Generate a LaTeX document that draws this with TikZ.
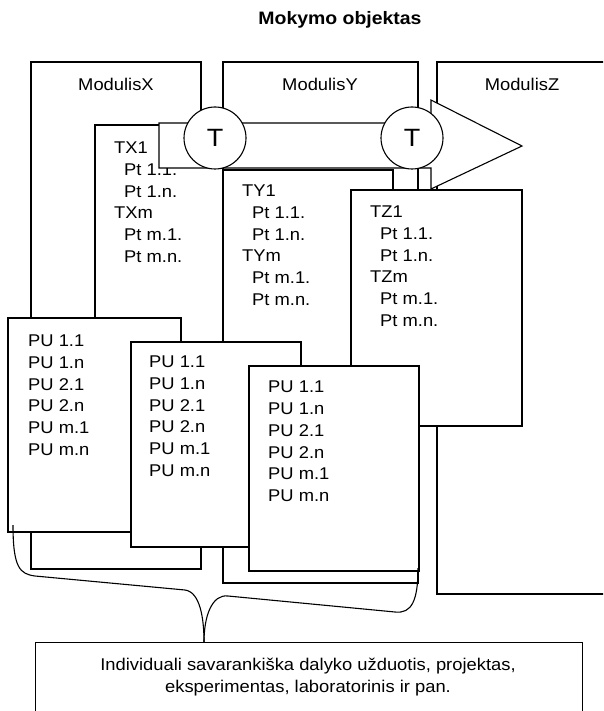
\documentclass[tikz,border=0pt]{standalone}
\usepackage{fontspec}
\setmainfont[FakeStretch=1.08]{Liberation Sans}
\begin{document}
\begin{tikzpicture}[x=1pt,y=-1pt,
  box/.style={draw=black, fill=white, line width=1.1pt},
  lbl/.style={font=\fontsize{17}{21.7}\selectfont, inner sep=0pt},
  list/.style={lbl, align=left, anchor=north west},
  tcirc/.style={circle, draw=black, fill=white, line width=1.1pt, minimum size=62pt, inner sep=0pt, font=\fontsize{25}{25}\selectfont},
  bracepath/.style={draw=black, line width=1.1pt}]
\useasboundingbox (0,0) rectangle (603,711);
\begin{scope}
\clip (0,0) rectangle (603,711);
% title
\node[font=\bfseries\fontsize{18}{20}\selectfont, inner sep=0pt] (title) at (340,20) {Mokymo objektas};
% Modulis X
\draw[box] (31,62) rectangle (201,569);
\node[lbl] (mx) at (116,84) {ModulisX};
\draw[box] (95,125) rectangle (223,450);
\node[list] (tx) at (114,142) {TX1\\\hspace*{10pt}Pt 1.1.\\\hspace*{10pt}Pt 1.n.\\TXm\\\hspace*{10pt}Pt m.1.\\\hspace*{10pt}Pt m.n.};
% Modulis Y
\draw[box] (223,62) rectangle (418,583);
\node[lbl] (my) at (320,84) {ModulisY};
\draw[box] (223,170) rectangle (393,480);
\node[list] (ty) at (242,185) {TY1\\\hspace*{10pt}Pt 1.1.\\\hspace*{10pt}Pt 1.n.\\TYm\\\hspace*{10pt}Pt m.1.\\\hspace*{10pt}Pt m.n.};
% Modulis Z
\draw[box] (437,62) rectangle (608,594);
\node[lbl] (mz) at (522,84) {ModulisZ};
% arrow
\draw[box] (159,123) -- (431,123) -- (431,100) -- (522,146) -- (431,189) -- (431,168) -- (159,168) -- cycle;
\node[tcirc] (c1) at (215,138) {T};
\node[tcirc] (c2) at (412,138) {T};
% TZ box
\draw[box] (351,190) rectangle (522,426);
\node[list] (tz) at (370,206) {TZ1\\\hspace*{10pt}Pt 1.1.\\\hspace*{10pt}Pt 1.n.\\TZm\\\hspace*{10pt}Pt m.1.\\\hspace*{10pt}Pt m.n.};
% PU boxes
\draw[box] (8,318) rectangle (181,532);
\node[list] (pu1) at (28,335) {PU 1.1\\PU 1.n\\PU 2.1\\PU 2.n\\PU m.1\\PU m.n};
\draw[box] (131,342) rectangle (301,547);
\node[list] (pu2) at (149,356) {PU 1.1\\PU 1.n\\PU 2.1\\PU 2.n\\PU m.1\\PU m.n};
\draw[box] (249,366) rectangle (419,571);
\node[list] (pu3) at (268,381) {PU 1.1\\PU 1.n\\PU 2.1\\PU 2.n\\PU m.1\\PU m.n};
% brace
\coordinate (bl) at (13,525);
\coordinate (br) at (418,568);
\coordinate (tip) at (204,642);
\draw[bracepath] (bl) .. controls (13,568) and (20,574) .. (35,576) -- (185,590) .. controls (200,592) and (204,618) .. (tip);
\draw[bracepath] (tip) .. controls (204,616) and (212,594) .. (228,596) -- (395,612) .. controls (412,614) and (418,600) .. (br);
% bottom box
\node[box, anchor=north west, minimum width=547pt, minimum height=90pt, inner sep=0pt] (taskbox) at (35,642) {};
\node[lbl, align=center] (tasktext) at (308,677) {Individuali savarankiška dalyko užduotis, projektas,\\eksperimentas, laboratorinis ir pan.};
\end{scope}
\end{tikzpicture}
\end{document}
